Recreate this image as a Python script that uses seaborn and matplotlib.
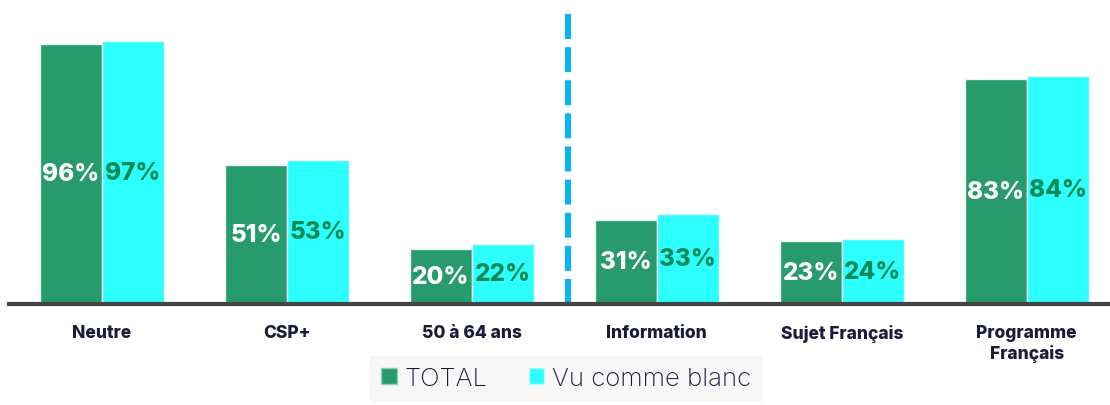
import pandas as pd
import matplotlib
matplotlib.use("Agg")
import matplotlib.pyplot as plt
import seaborn as sns
from matplotlib.patches import Patch

# data
categories = ["Neutre", "CSP+", "50 à 64 ans", "Information", "Sujet Français", "Programme\nFrançais"]
total = [96, 51, 20, 31, 23, 83]
vu_blanc = [97, 53, 22, 33, 24, 84]
series = ["TOTAL", "Vu comme blanc"]

df = pd.DataFrame({
    "cat": categories * 2,
    "val": total + vu_blanc,
    "serie": [series[0]] * len(categories) + [series[1]] * len(categories),
})

green = "#279a6e"
cyan = "#2bffff"
label_green = "#0f8a57"
navy = "#1b1b3a"

sns.set_theme(style="white")
plt.rcParams["font.family"] = ["Inter", "DejaVu Sans"]

fig = plt.figure(figsize=(11.1, 4.06), dpi=100)
ax = fig.add_axes([0.008, 0.2500, 0.992, 0.7500])

sns.barplot(data=df, x="cat", y="val", hue="serie", palette=[green, cyan],
            saturation=1, width=0.67, edgecolor="#e8f5ef", linewidth=1,
            legend=False, ax=ax)

ax.set_ylim(0, 112.5)
ax.set_xlim(-0.503, 5.45)

# value labels in the middle of each bar
for cont, col in zip(ax.containers, ["white", label_green]):
    labels = [f"{v:.0f}%" for v in cont.datavalues]
    ax.bar_label(cont, labels=labels, label_type="center", color=col,
                 fontsize=17.5, fontweight="heavy")

# separator
ax.axvline(2.52, ymin=0, ymax=0.955, color="#0db3ee", linewidth=4.5,
           linestyle=(0, (4, 1.3)))

for s in ["top", "right", "left"]:
    ax.spines[s].set_visible(False)
ax.spines["bottom"].set_color("#444444")
ax.spines["bottom"].set_linewidth(3)
ax.set_yticks([])
ax.set_xlabel("")
ax.set_ylabel("")
ax.tick_params(axis="x", length=0, pad=15)
for t in ax.get_xticklabels():
    t.set_fontweight("heavy")
    t.set_fontsize(12.5)
    t.set_color(navy)

handles = [Patch(facecolor=green, edgecolor="#8fd0b5"), Patch(facecolor=cyan, edgecolor="#bffcff")]
leg = fig.legend(handles, series, loc="lower center", bbox_to_anchor=(0.51, -0.005), ncol=2,
                 frameon=True, fontsize=18.5, handlelength=0.6, handleheight=0.6,
                 handletextpad=0.3, columnspacing=1.6, borderpad=0.45, borderaxespad=0.2,
                 fancybox=False)
leg.get_frame().set_facecolor("#f6f6f7")
leg.get_frame().set_edgecolor("none")
for t in leg.get_texts():
    t.set_color(navy)
    t.set_fontweight("light")

fig.savefig("out.png", dpi=100)
